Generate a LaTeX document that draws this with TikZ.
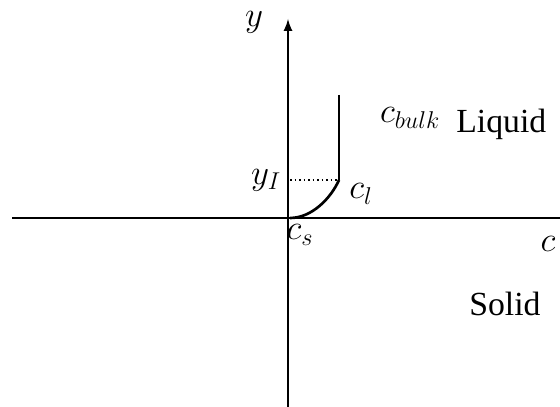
\documentclass[tikz,border=0pt]{standalone}
\usepackage{fontspec}
\setmainfont{Liberation Serif}
\begin{document}
\begin{tikzpicture}[x=0.025cm, y=-0.025cm, >=latex,
		axis/.style={line width=1.9pt},
		lbl/.style={font=\fontsize{24}{28}\selectfont, inner sep=0pt}]
		\useasboundingbox (0,0) rectangle (560,407);
		% axes
		\coordinate (xl) at (12,218);
		\coordinate (xr) at (560,218);
		\coordinate (yb) at (288,407);
		\coordinate (yt) at (288,19);
		\draw[axis] (xl) -- (xr);
		\draw[->, axis] (yb) -- (yt);
		% profile
		\coordinate (top) at (339,95);
		\coordinate (cl) at (339,180);
		\coordinate (cs) at (290,218);
		\coordinate (yi) at (290,180);
		\draw[axis] (top) -- (cl);
		\draw[axis] (cl) .. controls (331,198) and (312,218) .. (cs);
		\draw[dotted, line width=1.2pt] (yi) -- (cl);
		% labels
		\node[lbl] (ylab) at (254,22) {$y$};
		\node[lbl] (clab) at (548,244) {$c$};
		\node[lbl] (bulk) at (410,118) {$c_{bulk}$};
		\node[lbl] (yilab) at (266,180) {$y_I$};
		\node[lbl] (cllab) at (361,194) {$c_l$};
		\node[lbl] (cslab) at (300,235) {$c_s$};
		\node[lbl, anchor=base west] (liq) at (456,133) {Liquid};
		\node[lbl, anchor=base west] (sol) at (469,315) {Solid};
	\end{tikzpicture}
\end{document}
